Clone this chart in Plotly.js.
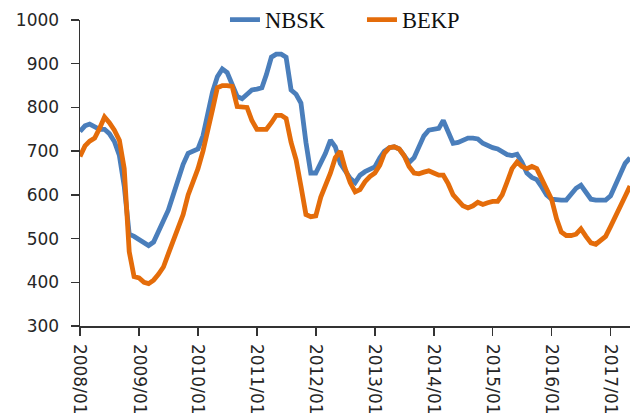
<!DOCTYPE html>
<html>
<head>
<meta charset="utf-8">
<script src="https://cdn.plot.ly/plotly-3.0.1.min.js"></script>
<style>html,body{margin:0;padding:0;background:#fff;}#chart{width:630px;height:419px;}</style>
</head>
<body>
<div id="chart"></div>
<script>
// Monthly series, 2008/01 .. 2017/05
var startYear = 2008, startMonth = 1;
var nbsk = [
  745, 758, 762, 755, 750, 750, 740, 722, 690, 620, 510, 505,   // 2008
  498, 492, 484, 492, 515, 538, 565, 600, 640, 670, 695, 700,   // 2009
  705, 735, 780, 835, 870, 888, 880, 850, 825, 820, 830, 840,   // 2010
  842, 845, 875, 915, 922, 922, 915, 840, 830, 810, 720, 650,   // 2011
  650, 672, 695, 725, 710, 672, 655, 638, 628, 645, 653, 658,   // 2012
  664, 685, 700, 708, 710, 705, 690, 674, 685, 710, 735, 748,   // 2013
  750, 752, 770, 745, 718, 720, 725, 730, 730, 728, 718, 712,   // 2014
  708, 705, 700, 692, 690, 693, 675, 650, 640, 635, 618, 600,   // 2015
  590, 588, 588, 588, 600, 615, 622, 608, 590, 588, 588, 588,   // 2016
  598, 625, 650, 672, 685                                       // 2017
];
var bekp = [
  688, 712, 723, 730, 752, 778, 765, 748, 725, 660, 470, 413,   // 2008
  410, 400, 397, 405, 418, 435, 465, 493, 525, 555, 600, 630,   // 2009
  660, 700, 741, 795, 845, 850, 850, 848, 802, 800, 800, 770,   // 2010
  750, 750, 750, 765, 782, 782, 775, 720, 680, 620, 555, 550,   // 2011
  552, 595, 620, 650, 685, 700, 660, 628, 607, 612, 630, 642,   // 2012
  650, 668, 695, 708, 710, 705, 690, 665, 650, 648, 652, 655,   // 2013
  650, 645, 645, 625, 600, 585, 575, 570, 575, 583, 578, 582,   // 2014
  585, 585, 600, 630, 660, 675, 665, 660, 665, 660, 635, 612,   // 2015
  590, 545, 515, 507, 507, 510, 522, 505, 490, 487, 497, 505,   // 2016
  528, 550, 573, 597, 620                                       // 2017
];
var seriesNames = ['NBSK', 'BEKP'];
var seriesColors = ['#4A7EBB', '#E46C0A'];
var tickYears = [2008, 2009, 2010, 2011, 2012, 2013, 2014, 2015, 2016, 2017];
var tickLabels = ['2008/01', '2009/01', '2010/01', '2011/01', '2012/01', '2013/01', '2014/01', '2015/01', '2016/01', '2017/01'];

function pad(n){ return (n < 10 ? '0' : '') + n; }
var months = [];
for (var i = 0; i < nbsk.length; i++) {
  var m = startMonth - 1 + i;
  months.push((startYear + Math.floor(m / 12)) + '-' + pad(m % 12 + 1) + '-01');
}
var tickVals = tickYears.map(function(y){ return y + '-01-01'; });

var traces = [nbsk, bekp].map(function(vals, k){
  return {
    x: months, y: vals, type: 'scatter', mode: 'lines', name: seriesNames[k],
    line: {color: seriesColors[k], width: 4.8, shape: 'linear'}
  };
});

var tickFont = {family: 'DejaVu Sans, Verdana, sans-serif', size: 17, color: '#262626'};
var layout = {
  width: 630, height: 419,
  margin: {l: 80, r: 0, t: 20, b: 93, pad: 0, autoexpand: false},
  paper_bgcolor: '#fff', plot_bgcolor: '#fff',
  showlegend: true,
  legend: {
    orientation: 'h', x: 0.2636, xanchor: 'left', y: 1.0, yanchor: 'middle',
    font: {family: 'Liberation Serif, Times New Roman, serif', size: 22.5, color: '#111'},
    bgcolor: 'rgba(0,0,0,0)', entrywidth: 92, entrywidthmode: 'pixels'
  },
  xaxis: {
    type: 'date', range: ['2008-01-01', '2017-05-01'],
    tickmode: 'array', tickvals: tickVals, ticktext: tickLabels,
    tickangle: 90, ticks: 'outside', ticklen: 8, tickwidth: 1.5, tickcolor: '#333',
    showline: true, linecolor: '#333', linewidth: 1.5, showgrid: false, zeroline: false,
    tickfont: tickFont, ticklabelstandoff: 5, automargin: false
  },
  yaxis: {
    range: [300, 1000], dtick: 100, tick0: 300,
    ticks: 'outside', ticklen: 8, tickwidth: 1.5, tickcolor: '#333',
    showline: true, linecolor: '#333', linewidth: 1.5, showgrid: false, zeroline: false,
    tickfont: tickFont, ticklabelstandoff: 8, automargin: false
  }
};
Plotly.newPlot('chart', traces, layout, {staticPlot: true, displayModeBar: false});
</script>
</body>
</html>
